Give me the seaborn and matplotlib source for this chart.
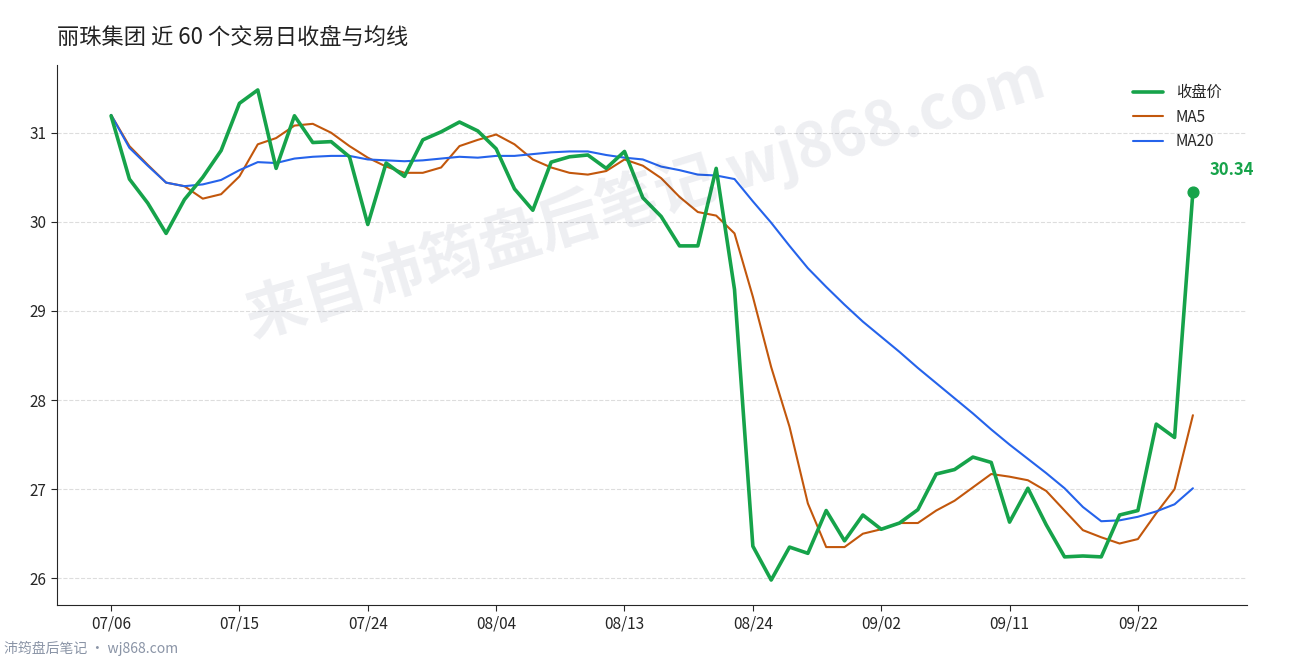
import numpy as np
import matplotlib
matplotlib.use('Agg')
import matplotlib.pyplot as plt
import seaborn as sns
import pandas as pd

# 收盘价与均线
close = [31.19, 30.48, 30.21, 29.87, 30.25, 30.50, 30.80, 31.33, 31.48, 30.60,
         31.19, 30.89, 30.90, 30.73, 29.97, 30.66, 30.51, 30.92, 31.01, 31.12,
         31.02, 30.82, 30.37, 30.13, 30.67, 30.73, 30.75, 30.60, 30.79, 30.27,
         30.06, 29.73, 29.73, 30.60, 29.24, 26.36, 25.98, 26.35, 26.28, 26.76,
         26.42, 26.71, 26.55, 26.62, 26.77, 27.17, 27.22, 27.36, 27.30, 26.63,
         27.01, 26.60, 26.24, 26.25, 26.24, 26.71, 26.76, 27.73, 27.58, 30.34]
ma5 = [31.20, 30.85, 30.64, 30.44, 30.40, 30.26, 30.31, 30.51, 30.87, 30.94,
       31.08, 31.10, 31.00, 30.85, 30.72, 30.62, 30.55, 30.55, 30.61, 30.85,
       30.92, 30.98, 30.87, 30.70, 30.61, 30.55, 30.53, 30.57, 30.70, 30.63,
       30.49, 30.28, 30.11, 30.07, 29.87, 29.16, 28.37, 27.70, 26.84, 26.35,
       26.35, 26.50, 26.55, 26.62, 26.62, 26.76, 26.87, 27.02, 27.17, 27.14,
       27.10, 26.98, 26.76, 26.54, 26.46, 26.39, 26.44, 26.73, 27.00, 27.83]
ma20 = [31.20, 30.83, 30.63, 30.44, 30.40, 30.42, 30.47, 30.58, 30.67, 30.66,
        30.71, 30.73, 30.74, 30.74, 30.70, 30.69, 30.68, 30.69, 30.71, 30.73,
        30.72, 30.74, 30.74, 30.76, 30.78, 30.79, 30.79, 30.75, 30.72, 30.70,
        30.62, 30.58, 30.53, 30.52, 30.48, 30.23, 29.99, 29.73, 29.48, 29.27,
        29.07, 28.88, 28.71, 28.54, 28.36, 28.19, 28.02, 27.85, 27.67, 27.50,
        27.34, 27.18, 27.01, 26.80, 26.64, 26.65, 26.69, 26.75, 26.83, 27.01]
tick_idx = [0, 7, 14, 21, 28, 35, 42, 49, 56]
tick_labels = ['07/06', '07/15', '07/24', '08/04', '08/13', '08/24', '09/02', '09/11', '09/22']

sns.set_style('white')
plt.rcParams['font.family'] = ['Noto Sans CJK SC', 'DejaVu Sans']

GREEN, ORANGE, BLUE = '#16a34a', '#c2570c', '#2563eb'

df = pd.DataFrame({'idx': np.arange(len(close)), 'close': close, 'ma5': ma5, 'ma20': ma20})

fig = plt.figure(figsize=(12.9, 6.6), dpi=100)
ax = fig.add_axes([57 / 1290, 55 / 660, 1190 / 1290, 540 / 660])

sns.lineplot(data=df, x='idx', y='close', color=GREEN, lw=2.6, label='收盘价', ax=ax, zorder=3)
sns.lineplot(data=df, x='idx', y='ma5', color=ORANGE, lw=1.5, label='MA5', ax=ax, zorder=2)
sns.lineplot(data=df, x='idx', y='ma20', color=BLUE, lw=1.5, label='MA20', ax=ax, zorder=2)

last = len(close) - 1
ax.scatter([last], [close[last]], color=GREEN, s=60, zorder=4)
ax.annotate(f'{close[last]:.2f}', (last, close[last]), xytext=(12, 12), textcoords='offset points',
            color=GREEN, fontsize=12, fontweight='bold')

ax.set_xlim(-2.95, 61.95)
ax.set_ylim(25.70, 31.76)
ax.set_xticks(tick_idx)
ax.set_xticklabels(tick_labels)
ax.set_yticks([26, 27, 28, 29, 30, 31])
ax.tick_params(axis='both', labelsize=11, length=4, direction='out', bottom=True, left=True)
ax.set_xlabel('')
ax.set_ylabel('')
ax.grid(axis='y', color='#dddddd', ls='--', lw=0.8)
for s in ['top', 'right']:
    ax.spines[s].set_visible(False)
ax.legend(loc='upper right', frameon=False, fontsize=11, bbox_to_anchor=(0.99, 0.99))

fig.text(57 / 1290, 1 - 38 / 660, '丽珠集团 近 60 个交易日收盘与均线', fontsize=16, color='#222222', va='center')
# 水印
fig.text(0.50, 0.70, '来自沛筠盘后笔记 wj868.com', fontsize=44, fontweight='bold', color='#1e2a5a',
         alpha=0.08, rotation=17, ha='center', va='center')
fig.text(4 / 1290, 1 - 648 / 660, '沛筠盘后笔记 · wj868.com', fontsize=10, color='#8a94a6', va='center')

fig.savefig('out.png', dpi=100)
